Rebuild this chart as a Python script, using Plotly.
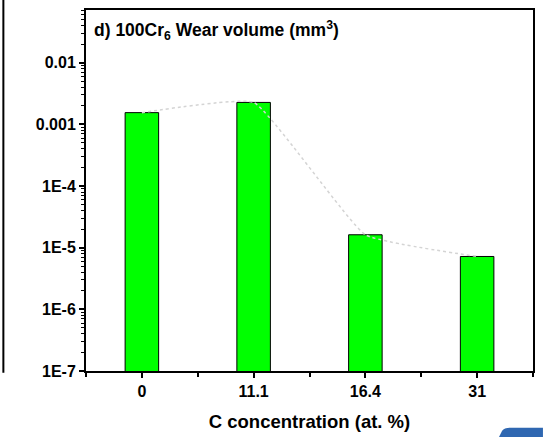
import plotly.graph_objects as go

categories = ["0", "11.1", "16.4", "31"]
wear_volume = [1.55e-3, 2.27e-3, 1.62e-5, 7.2e-6]
y_tick_vals = [1e-7, 1e-6, 1e-5, 1e-4, 1e-3, 1e-2]
y_tick_text = ["1E-7", "1E-6", "1E-5", "1E-4", "0.001", "0.01"]

xpos = list(range(len(categories)))
FONT = "Arial, Liberation Sans, sans-serif"

fig = go.Figure()
fig.add_trace(go.Bar(
    x=xpos, y=wear_volume, width=0.3,
    marker=dict(color="#00ff00", line=dict(color="black", width=1)),
    showlegend=False,
))
fig.add_trace(go.Scatter(
    x=xpos, y=wear_volume, mode="lines",
    line=dict(color="#d4d4d4", width=1.5, dash="dot", shape="spline", smoothing=0.35),
    showlegend=False,
))

minor_y = [k * 10.0 ** e for e in range(-7, -1) for k in range(2, 10)]

fig.update_layout(
    width=543, height=437,
    margin=dict(l=86, r=8, t=9, b=65),
    paper_bgcolor="white", plot_bgcolor="white",
    font=dict(family=FONT, color="black", size=16),
    xaxis=dict(
        range=[-0.5, 3.5], tickmode="array", tickvals=xpos, ticktext=categories,
        showgrid=False, zeroline=False, showline=True, linecolor="black", linewidth=2,
        mirror=True, ticks="outside", ticklen=5, tickwidth=1.5, tickcolor="black",
        tickfont=dict(family=FONT, size=16, color="black", weight="bold"),
        minor=dict(tickmode="array", tickvals=[-0.5, 0.5, 1.5, 2.5, 3.5], ticks="outside",
                   ticklen=4, tickwidth=1.5, tickcolor="black"),
        title=dict(text="<b>C concentration (at. %)</b>", font=dict(family=FONT, size=18.5), standoff=16),
    ),
    yaxis=dict(
        type="log", range=[-7, -1.145], tickmode="array", tickvals=y_tick_vals, ticktext=y_tick_text,
        showgrid=False, zeroline=False, showline=True, linecolor="black", linewidth=2,
        mirror=True, ticks="outside", ticklen=5, tickwidth=1.5, tickcolor="black",
        tickfont=dict(family=FONT, size=16, color="black", weight="bold"),
        minor=dict(tickmode="array", tickvals=minor_y, ticks="outside",
                   ticklen=3, tickwidth=1, tickcolor="black"),
    ),
    annotations=[
        dict(xref="paper", yref="paper", x=(92 - 86) / 449, y=1 - (30 - 9) / 363, xanchor="left",
             yanchor="middle",
             text="<b>d) 100Cr<sub>6</sub> Wear volume (mm<sup>3</sup>)</b>", showarrow=False,
             font=dict(family=FONT, size=17.5, color="black")),
    ],
    shapes=[
        dict(type="line", xref="paper", yref="paper", x0=(3 - 86) / 449, x1=(3 - 86) / 449,
             y0=1.05, y1=-0.005, line=dict(color="black", width=2)),
        dict(type="path", xref="paper", yref="paper",
             path="M %f %f L %f %f Q %f %f %f %f L %f %f L %f %f Z" % (
                 (500 - 86) / 449, -(440 - 372) / 363,
                 (504 - 86) / 449, -(432 - 372) / 363,
                 (506 - 86) / 449, -(429 - 372) / 363,
                 (512 - 86) / 449, -(429 - 372) / 363,
                 (545 - 86) / 449, -(429 - 372) / 363,
                 (545 - 86) / 449, -(440 - 372) / 363),
             fillcolor="#2f67b1", line=dict(width=0)),
    ],
)

fig.write_html("out.html")
